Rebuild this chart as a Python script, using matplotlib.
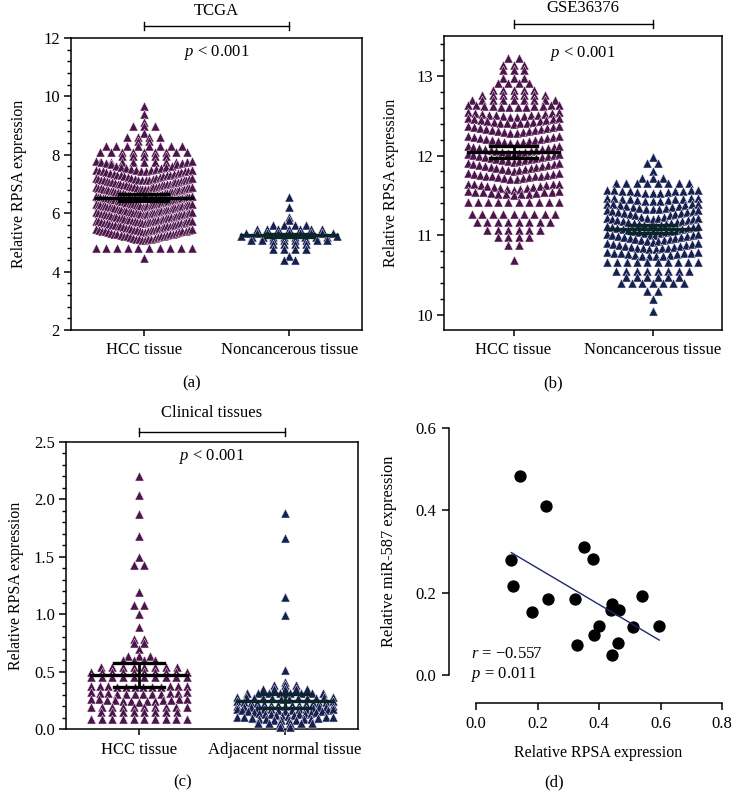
import matplotlib
matplotlib.use("Agg")
import matplotlib.pyplot as plt
import numpy as np
from matplotlib.ticker import MultipleLocator, FormatStrFormatter

plt.rcParams['font.family'] = ['Liberation Serif', 'DejaVu Serif']
plt.rcParams['mathtext.fontset'] = 'custom'
plt.rcParams['mathtext.rm'] = 'Liberation Serif'
plt.rcParams['mathtext.it'] = 'Liberation Serif:italic'

# colours
hcc_color = '#4a1548'
norm_color = '#13214f'

# ---- data (row level of the dot plot, number of dots in that row) ----
# (a) TCGA
a_hcc_levels = [9.66, 9.40, 9.12, 8.97, 8.75, 8.60, 8.48, 8.29, 8.10, 7.95, 7.77,
                7.60, 7.30, 7.00, 6.70, 6.40, 6.12, 5.84, 5.55, 5.26, 4.81, 4.47]
a_hcc_counts = [1, 1, 1, 3, 1, 4, 2, 8, 9, 5, 9,
                20, 28, 36, 40, 42, 42, 38, 36, 32, 10, 1]
a_non_levels = [6.55, 6.22, 5.87, 5.77, 5.60, 5.45, 5.33, 5.20, 5.08, 4.95, 4.78, 4.53, 4.40]
a_non_counts = [1, 1, 1, 1, 4, 7, 9, 10, 8, 4, 4, 1, 2]

# (b) GSE36376
b_hcc_levels = [13.22, 13.14, 13.07, 12.97, 12.91, 12.82, 12.76, 12.70, 12.62, 12.51,
                12.43, 12.32, 12.20, 12.07, 11.97, 11.86, 11.74, 11.61, 11.53, 11.42,
                11.27, 11.17, 11.07, 10.98, 10.88, 10.69]
b_hcc_counts = [2, 3, 3, 3, 4, 5, 7, 9, 12, 14, 15, 16, 16, 17, 17, 17, 16, 15, 13, 10,
                9, 8, 6, 4, 2, 1]
b_non_levels = [11.98, 11.90, 11.80, 11.72, 11.65, 11.55, 11.45, 11.36, 11.26, 11.16,
                11.06, 10.96, 10.86, 10.76, 10.66, 10.55, 10.47, 10.40, 10.30, 10.20, 10.05]
b_non_counts = [1, 2, 1, 3, 8, 13, 13, 15, 17, 18, 18, 17, 16, 14, 10, 8, 6, 7, 2, 1, 1]

# (c) Clinical tissues
c_hcc_levels = [2.20, 2.04, 1.87, 1.68, 1.50, 1.43, 1.19, 1.08, 1.00, 0.89, 0.78, 0.75,
                0.70, 0.64, 0.60, 0.54, 0.50, 0.45, 0.37, 0.31, 0.25, 0.19, 0.15, 0.09]
c_hcc_counts = [1, 1, 1, 1, 1, 2, 1, 2, 1, 1, 2, 2,
                1, 3, 4, 8, 10, 10, 12, 12, 13, 10, 8, 10]
c_non_levels = [1.88, 1.66, 1.15, 0.99, 0.51, 0.41, 0.38, 0.35, 0.31, 0.27, 0.22, 0.18,
                0.14, 0.09, 0.05, 0.02]
c_non_counts = [1, 1, 1, 1, 1, 1, 3, 5, 8, 12, 15, 15, 18, 14, 6, 2]

# error bar half-heights
a_err = [0.12, 0.06]
b_err = [0.07, 0.05]
c_err = [0.105, 0.06]

# (d) correlation
d_rpsa = [0.144, 0.229, 0.115, 0.120, 0.182, 0.233, 0.321, 0.352, 0.382, 0.328,
          0.383, 0.399, 0.442, 0.440, 0.464, 0.461, 0.442, 0.509, 0.541, 0.596]
d_mir = [0.483, 0.411, 0.280, 0.215, 0.152, 0.184, 0.184, 0.312, 0.281, 0.073,
         0.096, 0.120, 0.173, 0.157, 0.158, 0.077, 0.049, 0.116, 0.191, 0.120]

W, H = 731, 791
fig = plt.figure(figsize=(W / 100, H / 100), dpi=100)


def frac(l, r, t, b):
    return [l / W, 1 - b / H, (r - l) / W, (b - t) / H]


def swarm(ax, x0, levels, counts, color, sag_px, spacing=0.075, maxw=0.33):
    # GraphPad style rows: compress when a row gets too wide, bend dense rows
    px = (ax.get_ylim()[1] - ax.get_ylim()[0]) / (ax.get_position().height * H)
    vals = []
    for lev, n in zip(levels, counts):
        step = spacing if (n - 1) * spacing <= 2 * maxw else 2 * maxw / (n - 1)
        offs = (np.arange(n) - (n - 1) / 2) * step
        comp = min(1.0, max(0.0, (n - 1) * spacing / (2 * maxw) - 1))
        if n > 1:
            y = lev + sag_px * px * comp * (np.abs(offs) / maxw - 0.5)
        else:
            y = np.full(n, lev)
        ax.scatter(x0 + offs, y, marker='^', s=42, color=color,
                   edgecolors='#f0e0f0', linewidths=0.35, zorder=3, clip_on=False)
        vals += [lev] * n
    return np.array(vals)


def mean_bar(ax, x0, vals, err, color='black'):
    m = vals.mean()
    ax.plot([x0 - 0.33, x0 + 0.33], [m, m], color=color, lw=2.4, zorder=6)
    ax.plot([x0 - 0.17, x0 + 0.17], [m + err, m + err], color=color, lw=2.4, zorder=6)
    ax.plot([x0 - 0.17, x0 + 0.17], [m - err, m - err], color=color, lw=2.4, zorder=6)
    ax.plot([x0, x0], [m - err, m + err], color=color, lw=2.0, zorder=6)


def style_box(ax, cats, ylabel, ylab_x):
    for s in ax.spines.values():
        s.set_linewidth(1.1)
    ax.set_xlim(0.5, 2.5)
    ax.set_xticks([1, 2])
    ax.set_xticklabels(cats)
    ax.tick_params(axis='x', length=4, width=1.1, pad=5, labelsize=12)
    ax.tick_params(axis='y', which='major', length=5, width=1.1, pad=3, labelsize=12)
    ax.tick_params(axis='y', which='minor', length=3, width=1.0)
    ax.set_ylabel(ylabel, fontsize=11.5)
    ax.yaxis.set_label_coords(ylab_x, 0.5)


def bracket(ax, title, y_br, y_title, y_p):
    tr = ax.get_xaxis_transform()
    ax.plot([1, 2], [y_br, y_br], color='black', lw=1.0, transform=tr, clip_on=False)
    for xx in (1, 2):
        ax.plot([xx, xx], [y_br - 0.014, y_br + 0.014], color='black', lw=1.0,
                transform=tr, clip_on=False)
    ax.text(1.5, y_title, title, transform=tr, ha='center', va='center', fontsize=12)
    ax.text(1.5, y_p, r'$\it{p}$ < 0.001', transform=tr, ha='center', va='center',
            fontsize=12, zorder=7)


ylab = 'Relative RPSA expression'

# ---- (a) ----
ax = fig.add_axes(frac(71, 362, 38, 330))
ax.set_ylim(2, 12)
ax.yaxis.set_major_locator(MultipleLocator(2))
ax.yaxis.set_minor_locator(MultipleLocator(0.4))
style_box(ax, ['HCC tissue', 'Noncancerous tissue'], ylab, -0.151)
v1 = swarm(ax, 1, a_hcc_levels, a_hcc_counts, hcc_color, 11)
v2 = swarm(ax, 2, a_non_levels, a_non_counts, norm_color, 8)
mean_bar(ax, 1, v1, a_err[0])
mean_bar(ax, 2, v2, a_err[1], '#0b2626')
bracket(ax, 'TCGA', 1.041, 1.092, 0.949)

# ---- (b) ----
ax = fig.add_axes(frac(444, 722, 36, 330))
ax.set_ylim(9.81, 13.5)
ax.yaxis.set_major_locator(MultipleLocator(1))
ax.yaxis.set_minor_locator(MultipleLocator(0.2))
style_box(ax, ['HCC tissue', 'Noncancerous tissue'], ylab, -0.162)
v1 = swarm(ax, 1, b_hcc_levels, b_hcc_counts, hcc_color, 10)
v2 = swarm(ax, 2, b_non_levels, b_non_counts, norm_color, 10)
mean_bar(ax, 1, v1, b_err[0])
mean_bar(ax, 2, v2, b_err[1], '#0b2626')
bracket(ax, 'GSE36376', 1.041, 1.094, 0.942)

# ---- (c) ----
ax = fig.add_axes(frac(66, 358, 442, 729))
ax.set_ylim(0, 2.5)
ax.yaxis.set_major_locator(MultipleLocator(0.5))
ax.yaxis.set_minor_locator(MultipleLocator(0.1))
ax.yaxis.set_major_formatter(FormatStrFormatter('%.1f'))
style_box(ax, ['HCC tissue', 'Adjacent normal tissue'], ylab, -0.144)
v1 = swarm(ax, 1, c_hcc_levels, c_hcc_counts, hcc_color, 8)
v2 = swarm(ax, 2, c_non_levels, c_non_counts, norm_color, 8)
mean_bar(ax, 1, v1, c_err[0])
mean_bar(ax, 2, v2, c_err[1], '#0b2626')
bracket(ax, 'Clinical tissues', 1.035, 1.10, 0.948)

# ---- (d) ----
ax = fig.add_axes(frac(476, 722, 428, 675))
ax.set_xlim(0, 0.8)
ax.set_ylim(0, 0.6)
ax.spines['top'].set_visible(False)
ax.spines['right'].set_visible(False)
ax.spines['left'].set_position(('outward', 19.4))
ax.spines['bottom'].set_position(('outward', 20.2))
ax.spines['left'].set_bounds(0, 0.6)
ax.spines['bottom'].set_bounds(0, 0.8)
for s in ('left', 'bottom'):
    ax.spines[s].set_linewidth(1.1)
ax.set_xticks(np.arange(0, 0.81, 0.2))
ax.set_yticks(np.arange(0, 0.61, 0.2))
ax.xaxis.set_major_formatter(FormatStrFormatter('%.1f'))
ax.yaxis.set_major_formatter(FormatStrFormatter('%.1f'))
ax.tick_params(length=5, width=1.1, labelsize=12, pad=4)
ax.scatter(d_rpsa, d_mir, s=62, color='black', zorder=3, clip_on=False)
slope, icpt = np.polyfit(d_rpsa, d_mir, 1)
xs = np.array([min(d_rpsa), max(d_rpsa)])
ax.plot(xs, slope * xs + icpt, color='#1f2a70', lw=1.0, zorder=4)
ax.text(-0.015, 0.05, '$\\it{r}$ = \u22120.557', fontsize=12, ha='left', va='center')
ax.text(-0.015, 0.0, '$\\it{p}$ = 0.011', fontsize=12, ha='left', va='center')
ax.set_xlabel('Relative RPSA expression', fontsize=11.5)
ax.xaxis.set_label_coords(0.496, -0.285)
ax.set_ylabel('Relative miR-587 expression', fontsize=11.75)
ax.yaxis.set_label_coords(-0.321, 0.5)

# panel letters
for lab, x, y in [('(a)', 192, 383), ('(b)', 553, 383), ('(c)', 183, 782), ('(d)', 554, 782)]:
    fig.text(x / W, 1 - y / H, lab, ha='center', va='center', fontsize=12)

fig.savefig('out.png', dpi=100)
